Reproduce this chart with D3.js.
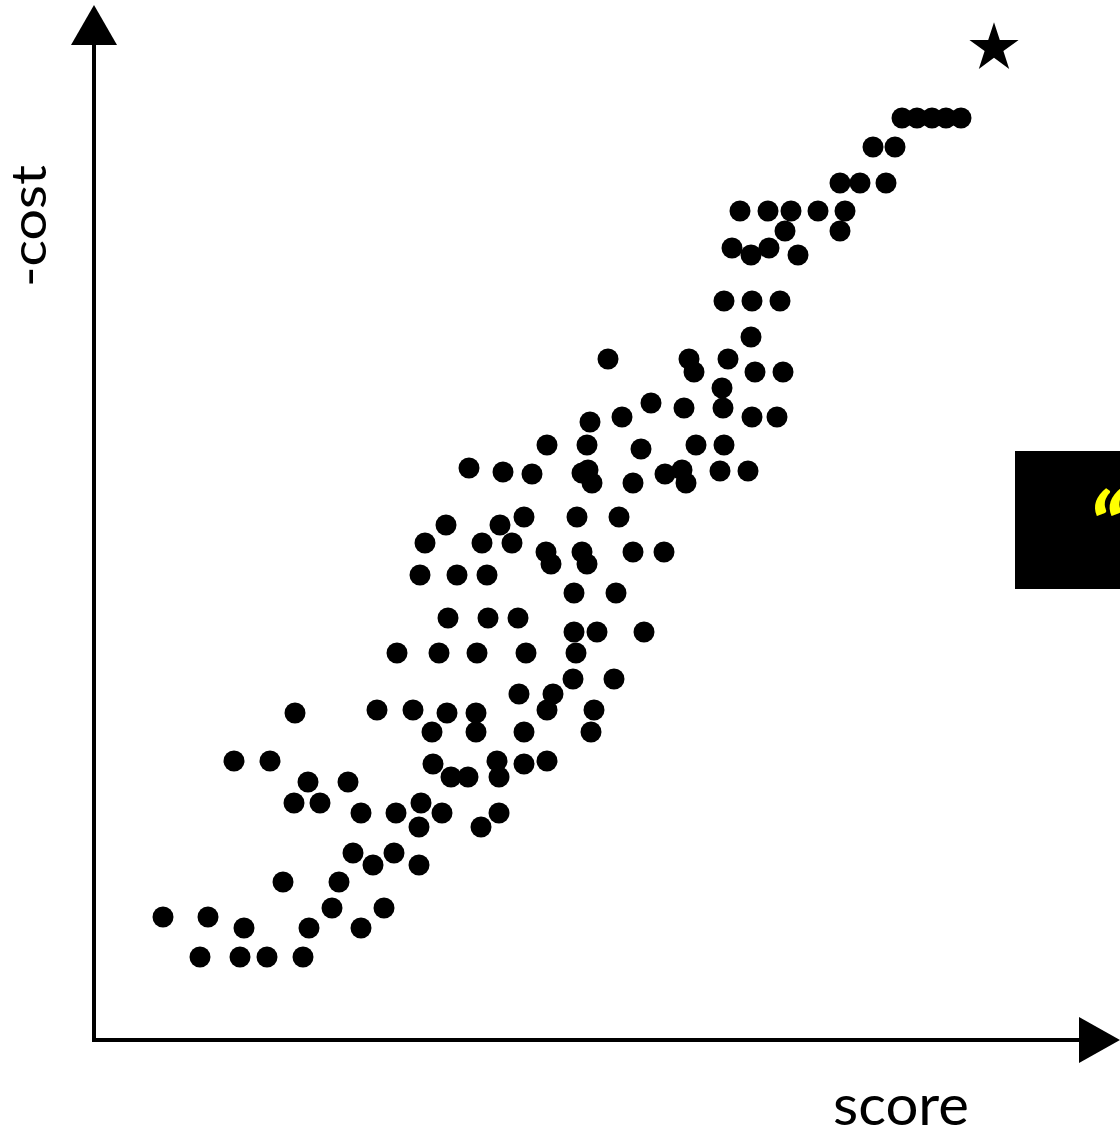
<!DOCTYPE html>
<html>
<head>
<meta charset="utf-8">
<script src="https://cdn.jsdelivr.net/npm/d3@7"></script>
<style>
  body { margin: 0; background: #fff; }
</style>
</head>
<body>
<svg id="chart"></svg>
<script>
// score (x) and -cost (y) of every candidate, in chart units
const score = [
  808, 823, 838, 852, 867, 779, 801, 746, 766, 792,
  646, 674, 697, 724, 751, 691, 746, 638, 675, 657,
  704, 630, 658, 686, 657, 514, 595, 634, 600, 661,
  689, 628, 557, 590, 629, 528, 658, 683, 496, 453,
  493, 602, 630, 547, 375, 409, 438, 488, 494, 498,
  539, 571, 588, 592, 626, 654, 430, 483, 525, 352,
  406, 331, 388, 418, 452, 488, 539, 570, 457, 493,
  326, 363, 393, 480, 522, 354, 394, 424, 480, 503,
  550, 303, 345, 383, 432, 482, 479, 520, 425, 459,
  201, 283, 319, 353, 382, 453, 500, 338, 382, 430,
  497, 140, 176, 339, 403, 430, 453, 357, 374, 405,
  214, 254, 200, 226, 327, 267, 302, 348, 405, 325,
  387, 259, 300, 279, 325, 189, 245, 238, 290, 69,
  114, 150, 215, 267, 106, 146, 173, 209
];
const negCost = [
  922, 922, 922, 922, 922, 893, 893, 857, 857, 857,
  829, 829, 829, 829, 829, 809, 809, 792, 792, 785,
  785, 739, 739, 739, 703, 681, 681, 681, 668, 668,
  668, 652, 637, 632, 632, 623, 623, 623, 618, 595,
  595, 595, 595, 591, 572, 568, 566, 567, 570, 557,
  557, 566, 570, 557, 569, 569, 523, 523, 523, 515,
  515, 497, 497, 497, 488, 488, 488, 488, 476, 476,
  465, 465, 465, 447, 447, 422, 422, 422, 408, 408,
  408, 387, 387, 387, 387, 387, 361, 361, 346, 346,
  327, 330, 330, 327, 327, 330, 330, 308, 308, 308,
  308, 279, 279, 276, 279, 276, 279, 263, 263, 263,
  258, 258, 237, 237, 237, 227, 227, 227, 227, 213,
  213, 187, 187, 175, 175, 158, 158, 132, 132, 123,
  123, 112, 112, 112, 83, 83, 83, 83
];
// the ideal point, marked with a star
const ideal = { score: 900, negCost: 992 };

const xLabel = "score";
const yLabel = "-cost";
const quoteMark = "\u201C";

const width = 1120;
const height = 1139;

const x = d3.scaleLinear().domain([0, 1000]).range([94, 1094]);
const y = d3.scaleLinear().domain([0, 1000]).range([1040, 40]);

const svg = d3.select("#chart").attr("width", width).attr("height", height);

// black panel peeking in from the right edge
svg.append("rect")
  .attr("x", 1015).attr("y", 451)
  .attr("width", 120).attr("height", 138)
  .attr("fill", "#000");

svg.append("text")
  .attr("x", 1088).attr("y", 563)
  .attr("font-family", "Lato, 'Open Sans', sans-serif")
  .attr("font-size", 96)
  .attr("font-weight", "bold")
  .attr("font-style", "italic")
  .attr("fill", "#ffff00")
  .text(quoteMark);

// axes with arrow heads
const ax = svg.append("g");
ax.append("line")
  .attr("x1", x(0)).attr("y1", y(0) + 2)
  .attr("x2", x(0)).attr("y2", y(996))
  .attr("stroke", "#000").attr("stroke-width", 4);
ax.append("line")
  .attr("x1", x(0) - 2).attr("y1", y(0))
  .attr("x2", x(986)).attr("y2", y(0))
  .attr("stroke", "#000").attr("stroke-width", 4);

ax.append("path")
  .attr("d", `M${x(0)},${y(1035)} L${x(0) - 23},${y(995)} L${x(0) + 23},${y(995)} Z`)
  .attr("fill", "#000");
ax.append("path")
  .attr("d", `M${x(1026)},${y(0)} L${x(985)},${y(0) - 23} L${x(985)},${y(0) + 23} Z`)
  .attr("fill", "#000");

// axis titles
svg.append("text")
  .attr("x", 833).attr("y", 1125)
  .attr("font-family", "Lato, 'Open Sans', sans-serif")
  .attr("font-size", 56)
  .attr("textLength", 136)
  .attr("lengthAdjust", "spacingAndGlyphs")
  .attr("fill", "#000")
  .text(xLabel);

svg.append("text")
  .attr("transform", "translate(46,226) rotate(-90)")
  .attr("text-anchor", "middle")
  .attr("font-family", "Lato, 'Open Sans', sans-serif")
  .attr("font-size", 48)
  .attr("textLength", 122)
  .attr("lengthAdjust", "spacingAndGlyphs")
  .attr("fill", "#000")
  .text(yLabel);

// candidates
const points = score.map((s, i) => ({ score: s, negCost: negCost[i] }));
svg.append("g")
  .selectAll("circle")
  .data(points)
  .join("circle")
  .attr("cx", (d) => x(d.score))
  .attr("cy", (d) => y(d.negCost))
  .attr("r", 10.5)
  .attr("fill", "#000");

svg.append("path")
  .attr("transform", `translate(${x(ideal.score)},${y(ideal.negCost)})`)
  .attr("d", d3.symbol(d3.symbolStar, 750)())
  .attr("fill", "#000");
</script>
</body>
</html>
